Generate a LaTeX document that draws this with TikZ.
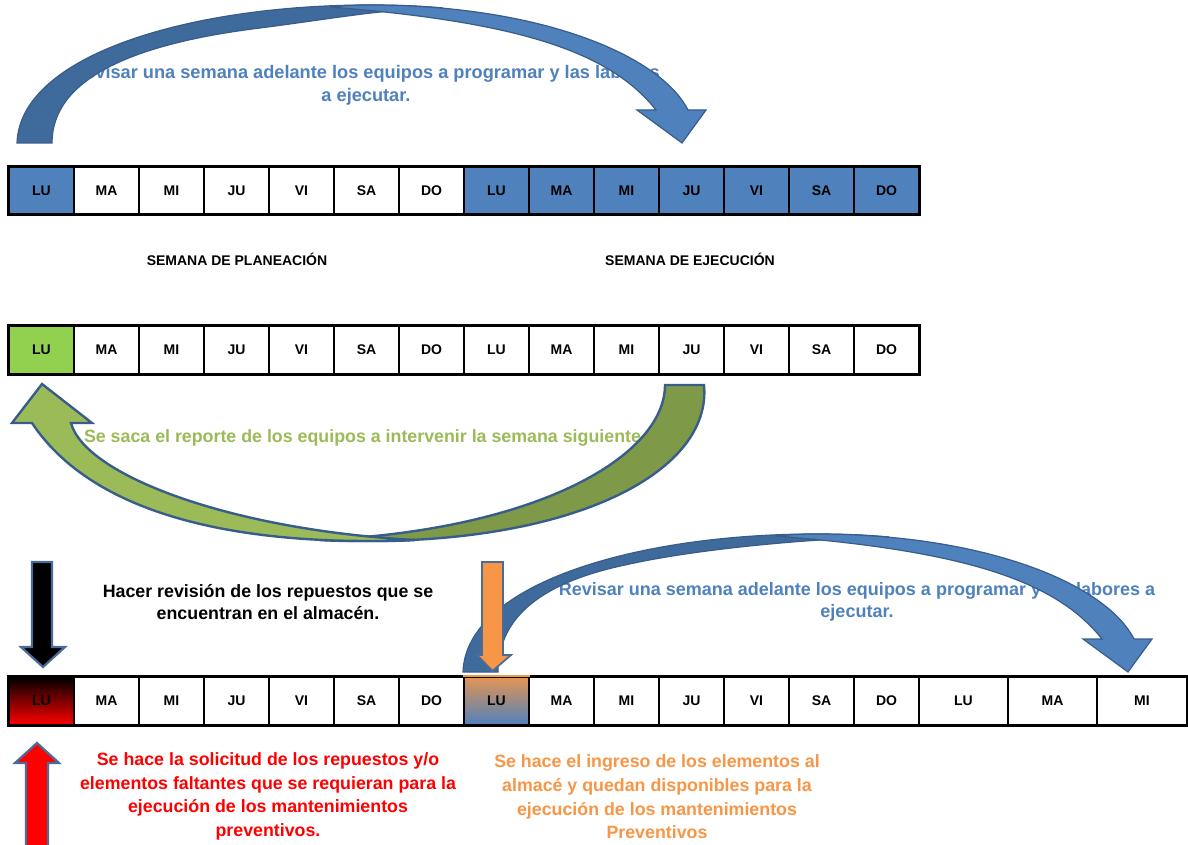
\documentclass[tikz,border=0pt]{standalone}
\usepackage{fontspec}
\setmainfont{Liberation Sans}
\definecolor{cellblue}{HTML}{4F81BD}
\definecolor{cellgreen}{HTML}{92D050}
\definecolor{cellorange}{HTML}{E39454}
\definecolor{arrowedge}{HTML}{385D8A}
\definecolor{stemedge}{HTML}{4A6C98}
\definecolor{bluedark}{HTML}{3F6A9C}
\definecolor{bluelight}{HTML}{4F81BD}
\definecolor{greenlight}{HTML}{9BBB59}
\definecolor{greendark}{HTML}{7E9A48}
\definecolor{orangefill}{HTML}{F79646}
\definecolor{textblue}{HTML}{4F81BD}
\definecolor{textgreen}{HTML}{9BBB59}
\definecolor{textorange}{HTML}{F79646}
\tikzset{
  cell/.style={draw=black, line width=2pt, minimum width=65pt, minimum height=47pt,
    inner sep=0pt, font=\fontsize{14}{16}\selectfont\bfseries},
  tallcell/.style={cell, minimum height=48pt},
  widecell/.style={tallcell, minimum width=89pt},
  frame/.style={draw=black, line width=2.6pt},
  weeklabel/.style={inner sep=0pt, font=\fontsize{14}{17}\selectfont\bfseries},
  note/.style={align=center, inner sep=0pt, font=\fontsize{17.8}{22.5}\selectfont\bfseries},
  bandedge/.style={draw=arrowedge, line width=1.2pt},
  greenedge/.style={draw=arrowedge, line width=2.4pt},
  stem/.style={draw=stemedge, line width=2.2pt},
  % light front half of a curved ribbon arrow, carrying the head
  pics/bluefront/.style={code={
    \filldraw[bandedge, fill=bluelight]
      (330,7) .. controls (345,5.5) and (357,5) .. (370,5)
      .. controls (540,5) and (660,55) .. (688,110)
      -- (706,110) -- (682,143) -- (637,110) -- (656,110)
      .. controls (610,52) and (520,22) .. (330,7) -- cycle;
  }}
}
\begin{document}
\begin{tikzpicture}[x=1pt, y=-1pt]
\useasboundingbox (0,0) rectangle (1188,845);
\clip (0,0) rectangle (1188,845);
\fill[white] (0,0) rectangle (1188,845);

% ---------- texts lying under the arrows ----------
\node[note, text=textblue, font=\fontsize{18.2}{23}\selectfont\bfseries] (t1) at (366,85.5)
  {Revisar una semana adelante los equipos a programar y las labores\\a ejecutar.};
\node[note, text=textgreen] (t2) at (362.5,438)
  {Se saca el reporte de los equipos a intervenir la semana siguiente};
\node[note, text=textblue, font=\fontsize{18}{22.5}\selectfont\bfseries] (t3) at (857,602)
  {Revisar una semana adelante los equipos a programar y las labores a\\ejecutar.};
\node[note, text=black] (t4) at (268,602)
  {Hacer revisión de los repuestos que se\\encuentran en el almacén.};
\node[note, text=red, font=\fontsize{17.8}{23.6}\selectfont\bfseries] (t5) at (268,796.5)
  {Se hace la solicitud de los repuestos y/o\\elementos faltantes que se requieran para la\\ejecución de los mantenimientos\\preventivos.};
\node[note, text=textorange, font=\fontsize{17.8}{23.6}\selectfont\bfseries] (t6) at (657,797)
  {Se hace el ingreso de los elementos al\\almacé y quedan disponibles para la\\ejecución de los mantenimientos\\Preventivos};

% ---------- week labels ----------
\node[weeklabel] (plan) at (237,259) {SEMANA DE PLANEACIÓN};
\node[weeklabel] (ejec) at (690,259) {SEMANA DE EJECUCIÓN};

% ---------- row 1 ----------
\node[cell, fill=cellblue] (a1) at (41.5,190.5) {LU};
\foreach \d [count=\i from 2] in {MA,MI,JU,VI,SA,DO}
  \node[cell] (a\i) at ({41.5+65*(\i-1)},190.5) {\d};
\foreach \d [count=\i from 8] in {LU,MA,MI,JU,VI,SA,DO}
  \node[cell, fill=cellblue] (a\i) at ({41.5+65*(\i-1)},190.5) {\d};
\draw[frame] (a1.north west) rectangle (a14.south east);

% ---------- row 2 ----------
\node[tallcell, fill=cellgreen] (b1) at (41.5,350) {LU};
\foreach \d [count=\i from 2] in {MA,MI,JU,VI,SA,DO,LU,MA,MI,JU,VI,SA,DO}
  \node[tallcell] (b\i) at ({41.5+65*(\i-1)},350) {\d};
\draw[frame] (b1.north west) rectangle (b14.south east);

% ---------- row 3 ----------
\node[tallcell, top color=black, bottom color=red] (c1) at (41.5,701) {LU};
\foreach \d [count=\i from 2] in {MA,MI,JU,VI,SA,DO}
  \node[tallcell] (c\i) at ({41.5+65*(\i-1)},701) {\d};
\node[tallcell, top color=cellorange, bottom color=cellblue] (c8) at (496.5,701) {LU};
\foreach \d [count=\i from 9] in {MA,MI,JU,VI,SA,DO}
  \node[tallcell] (c\i) at ({41.5+65*(\i-1)},701) {\d};
\node[widecell] (c15) at (963.5,701) {LU};
\node[widecell] (c16) at (1052.5,701) {MA};
\node[widecell, minimum width=90pt] (c17) at (1142,701) {MI};
\draw[frame] (c1.north west) rectangle (c17.south east);
\draw[orangefill, line width=2pt] (c8.north west) -- (c8.north east);

% ---------- upper curved arrow ----------
\filldraw[bandedge, fill=bluedark]
  (17,143) .. controls (20,55) and (190,5) .. (370,5)
  .. controls (400,5) and (420,6) .. (443,8)
  .. controls (390,8) and (330,19) .. (260,28)
  .. controls (130,44) and (52,80) .. (52,143) -- cycle;
\pic at (0,0) {bluefront};

% ---------- lower curved arrow (slimmer back half) ----------
\filldraw[bandedge, fill=bluedark]
  (463,672) .. controls (466,584) and (636,534) .. (816,534)
  .. controls (846,534) and (866,535) .. (889,537)
  .. controls (820,538) and (700,548) .. (625,565)
  .. controls (545,582) and (498,615) .. (498,672) -- cycle;
\pic at (446,529) {bluefront};

% ---------- green return arrow ----------
\filldraw[greenedge, fill=greendark]
  (704,385) .. controls (712,470) and (580,541) .. (368,541)
  .. controls (350,541) and (335,541) .. (320,540)
  .. controls (540,530) and (665,455) .. (665,385) -- cycle;
\filldraw[greenedge, fill=greenlight]
  (32,423) .. controls (90,510) and (220,541) .. (368,541)
  .. controls (385,541) and (400,541) .. (415,540)
  .. controls (230,530) and (85,475) .. (71,423)
  -- (92,423) -- (42,384) -- (12,423) -- cycle;

% ---------- straight arrows ----------
\filldraw[stem, fill=black]
  (32,562) -- (52,562) -- (52,647) -- (65,647) -- (43,667) -- (21,647) -- (32,647) -- cycle;
\filldraw[stem, fill=red]
  (26,852) -- (26,763) -- (15,763) -- (37,743) -- (59,763) -- (48,763) -- (48,852) -- cycle;
\filldraw[stem, line width=1.8pt, fill=orangefill]
  (482,562) -- (503,562) -- (503,655) -- (511,655) -- (492.5,671) -- (477,655) -- (482,655) -- cycle;
\end{tikzpicture}
\end{document}
